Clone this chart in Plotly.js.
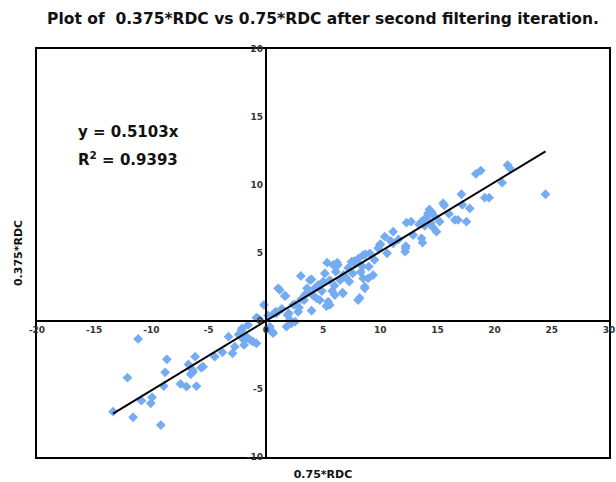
<!DOCTYPE html>
<html>
<head>
<meta charset="utf-8">
<script src="https://cdn.plot.ly/plotly-3.0.1.min.js"></script>
<style>html,body{margin:0;padding:0;background:#fff;}#chart{width:616px;height:482px;}</style>
</head>
<body>
<div id="chart"></div>
<script>
// 0.75*RDC values (x)
const xVals = [
 -13.35,-12.09,-11.60,-11.16,-10.87,-10.05,-9.94,-9.18,-8.92,-8.80,-8.65,-7.46,-6.93,-6.76,-6.56,-6.35,-6.18,-6.06,-6.45,-5.65,
 -5.48,-4.46,-3.79,-3.26,-2.91,-2.71,-2.36,-2.33,-2.12,-2.07,-1.92,-1.90,-1.78,-1.55,-1.55,-1.34,-1.11,-0.82,-0.82,-0.70,
 -0.58,-0.52,-0.17,
 0.35,0.41,0.55,0.64,0.73,0.87,0.93,1.08,1.22,1.66,1.72,1.81,1.90,2.01,2.10,2.24,2.56,2.83,2.62,3.06,
 3.10,3.35,3.41,3.70,3.85,4.00,4.00,4.28,4.43,4.58,4.72,1.40,0.20,2.40,2.90,4.10,3.60,4.90,
 5.01,5.16,5.30,5.36,5.45,5.59,5.59,5.80,5.89,6.00,6.03,6.12,6.24,6.30,6.50,6.70,6.76,6.80,7.00,7.20,
 7.30,7.49,7.60,7.70,7.80,8.00,8.07,8.10,8.20,8.30,8.45,8.51,8.51,8.65,8.65,8.70,8.95,9.00,9.09,9.38,
 9.50,9.82,9.97,10.02,10.60,
 10.40,10.90,11.13,11.13,11.60,12.18,12.21,12.24,12.30,12.70,12.88,13.40,13.61,13.61,13.70,13.90,14.00,14.19,14.30,14.40,
 14.50,14.60,14.77,14.92,15.20,15.50,15.60,16.02,16.52,16.80,
 17.10,17.19,17.54,17.83,18.36,18.79,19.14,19.52,20.66,21.13,21.33,24.45
];
// 0.375*RDC values (y)
const yVals = [
 -6.67,-4.17,-7.08,-1.32,-5.86,-6.05,-5.61,-7.65,-4.78,-3.77,-2.82,-4.63,-4.83,-3.19,-3.92,-3.73,-2.62,-4.78,-3.55,-3.43,
 -3.36,-2.62,-2.30,-1.15,-2.38,-1.89,-0.98,-1.03,-0.66,-0.54,-1.40,-1.76,-1.10,-0.29,-1.27,-1.40,-1.52,-1.64,0.24,0.20,
 0.12,0.07,1.18,
 -0.42,-0.71,-0.78,-0.90,0.57,0.68,0.57,2.40,2.28,1.84,1.84,-0.42,0.44,0.57,0.10,-0.17,-0.05,0.68,1.20,3.31,
 1.60,1.54,1.91,2.15,3.01,0.76,3.06,2.40,1.67,2.65,1.54,0.90,0.40,1.20,1.00,1.90,2.40,2.20,
 2.89,3.50,1.10,4.29,1.42,3.01,1.18,2.20,4.12,2.60,1.91,3.63,4.29,4.12,3.00,2.08,2.04,3.40,3.20,3.90,
 2.90,4.36,3.50,4.40,4.20,4.30,1.54,4.60,1.70,3.60,4.00,4.85,3.14,2.40,2.52,4.90,3.14,4.00,4.98,3.38,
 4.50,5.35,5.59,5.66,4.98,
 6.20,5.90,6.57,5.71,6.00,5.10,5.35,5.51,7.23,7.30,6.32,7.10,7.30,6.08,5.76,7.00,7.60,7.92,8.20,7.20,
 8.00,6.90,7.67,6.57,7.30,8.65,8.50,7.87,7.43,7.43,
 9.32,8.53,7.30,8.28,10.81,11.06,9.07,9.07,10.17,11.47,11.23,9.32
];
const slope = [0.5103];
const rSquared = [0.9393];
const xTickVals = [-20,-15,-10,-5,0,5,10,15,20,25,30];
const xTickText = ["-20","-15","-10","-5","0","5","10","15","20","25","30"];
const yTickVals = [-10,-5,0,5,10,15,20];
const yTickText = ["-10","-5","0","5","10","15","20"];

const xMin = Math.min(...xVals), xMax = Math.max(...xVals);
const lineX = [xMin, xMax];
const lineY = lineX.map(v => slope[0] * v);

const tickFont = {family: 'DejaVu Sans', size: 9, color: '#333', weight: 'bold'};
const titleFont = {family: 'DejaVu Sans', size: 11, color: '#111', weight: 'bold'};

const traces = [
  {x: xVals, y: yVals, type: 'scatter', mode: 'markers',
   marker: {symbol: 'diamond', size: 7.5, color: '#74ABF1'}, showlegend: false, hoverinfo: 'x+y'},
  {x: lineX, y: lineY, type: 'scatter', mode: 'lines',
   line: {color: '#000', width: 2}, showlegend: false, hoverinfo: 'skip'},
  {x: [], y: [], xaxis: 'x2', yaxis: 'y2', type: 'scatter', mode: 'markers', showlegend: false, hoverinfo: 'skip'}
];

const layout = {
  width: 616, height: 482,
  margin: {l: 37, r: 7, t: 49, b: 25},
  paper_bgcolor: '#fff', plot_bgcolor: '#fff',
  title: {text: 'Plot of  0.375*RDC vs 0.75*RDC after second filtering iteration.',
          font: {family: 'DejaVu Sans', size: 15.5, color: '#111', weight: 'bold'},
          x: 0.5, xref: 'paper', y: 1 - 19/482, yref: 'container', yanchor: 'middle'},
  xaxis: {range: [-20, 30], tickvals: xTickVals, ticktext: xTickText, showgrid: false, zeroline: false,
          showline: true, linecolor: '#000', linewidth: 2, ticks: '', anchor: 'free', position: 1/3,
          tickfont: tickFont, fixedrange: true},
  yaxis: {range: [-10, 20], tickvals: yTickVals, ticktext: yTickText, showgrid: false, zeroline: false,
          showline: true, linecolor: '#000', linewidth: 2, ticks: '', anchor: 'free', position: 0.4,
          tickfont: tickFont, fixedrange: true},
  xaxis2: {overlaying: 'x', anchor: 'y2', range: [-20, 30], showgrid: false, zeroline: false,
           showline: true, mirror: true, linecolor: '#000', linewidth: 2, ticks: '', showticklabels: false,
           title: {text: '0.75*RDC', font: titleFont, standoff: 12}, fixedrange: true},
  yaxis2: {overlaying: 'y', anchor: 'x2', range: [-10, 20], showgrid: false, zeroline: false,
           showline: true, mirror: true, linecolor: '#000', linewidth: 2, ticks: '', showticklabels: false,
           title: {text: '0.375*RDC', font: titleFont, standoff: 10}, fixedrange: true},
  annotations: [
    {text: 'y = ' + slope[0].toFixed(4) + 'x', xref: 'paper', yref: 'paper', x: 0.069, y: 0.797,
     xanchor: 'left', yanchor: 'middle', showarrow: false,
     font: {family: 'DejaVu Sans', size: 15, color: '#111', weight: 'bold'}},
    {text: 'R<sup>2</sup> = ' + rSquared[0].toFixed(4), xref: 'paper', yref: 'paper', x: 0.069, y: 0.73,
     xanchor: 'left', yanchor: 'middle', showarrow: false,
     font: {family: 'DejaVu Sans', size: 15, color: '#111', weight: 'bold'}}
  ]
};

Plotly.newPlot('chart', traces, layout, {displayModeBar: false, staticPlot: true});
</script>
</body>
</html>
